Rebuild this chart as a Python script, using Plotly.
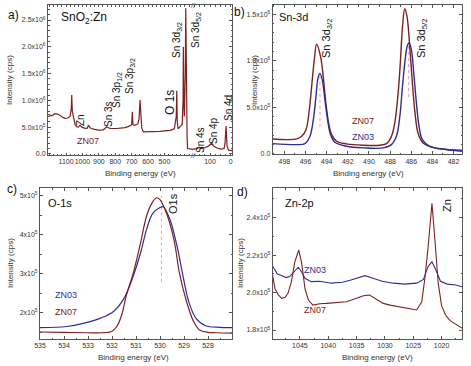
import plotly.graph_objects as go

W, H = 471, 366
RED = "#7e2020"
BLUE = "#2b2f92"
PINK = "#e79aae"

# ---------------- data ----------------
# a) survey, left segment (binding energy eV, intensity cps)
a_left_x = [1209.8, 1187.2, 1167.1, 1147, 1126.2, 1106.1, 1089.6, 1075.6, 1068, 1065.2, 1062, 1055.5,
            1045.1, 1034.8, 1025, 1014.6, 1004.3, 984.1, 970, 964, 953.7, 933.5, 903, 872.6, 851.8,
            831.7, 790.9, 740.2, 709.8, 700, 695.7, 692, 683.5, 662.8, 655, 648.8, 643, 638.4, 628.7,
            587.8, 526.8, 465.9, 440, 428, 425, 422, 417.1, 401.8, 392, 386.5, 384.8, 382, 378.7, 373,
            370.1, 367, 362, 359.1, 343.9, 325.6]
a_left_y = [0.738e6, 0.712e6, 0.75e6, 0.74e6, 0.693e6, 0.663e6, 0.67e6, 0.70e6, 0.85e6, 1.10e6, 0.80e6, 0.69e6,
            0.55e6, 0.506e6, 0.50e6, 0.537e6, 0.50e6, 0.476e6, 0.48e6, 0.537e6, 0.49e6, 0.462e6, 0.444e6, 0.45e6, 0.506e6,
            0.475e6, 0.475e6, 0.49e6, 0.524e6, 0.55e6, 0.787e6, 0.55e6, 0.53e6, 0.56e6, 0.65e6, 1.006e6, 0.6e6, 0.48e6, 0.412e6,
            0.412e6, 0.42e6, 0.44e6, 0.47e6, 0.7e6, 1.18e6, 0.6e6, 0.47e6, 0.52e6, 0.55e6, 1.0e6, 2.0e6, 1.0e6, 0.7e6, 1.5e6,
            2.72e6, 1.2e6, 0.3e6, 0.1e6, 0.09e6, 0.085e6]
# a) survey, right segment
a_right_x = [182, 162.8, 151.7, 143.5, 124, 109.7, 91.8, 80.7, 66.2, 46.9, 32.4, 27.5, 22.7, 17.9, 10.6, -6]
a_right_y = [0.09e6, 0.1e6, 0.125e6, 0.1e6, 0.12e6, 0.14e6, 0.2e6, 0.14e6, 0.11e6, 0.09e6, 0.1e6, 0.2e6,
             0.52e6, 0.15e6, 0.07e6, 0.06e6]

# b) Sn-3d
b07_x = [499.1, 497.78, 496.83, 496.36, 495.95, 495.64, 495.39, 495.17, 494.95, 494.57, 494.32, 494.07, 493.81,
         493.53, 493.06, 492.12, 490.54, 488.97, 488.34, 487.87, 487.56, 487.24, 487.02, 486.83, 486.61, 486.39,
         486.14, 485.89, 485.64, 485.36, 484.88, 483.94, 482.68, 481.2]
b07_y = [0.16e6, 0.153e6, 0.16e6, 0.188e6, 0.26e6, 0.473e6, 0.758e6, 1.007e6, 1.178e6, 1.043e6, 0.829e6, 0.545e6, 0.33e6,
         0.206e6, 0.135e6, 0.107e6, 0.093e6, 0.093e6, 0.11e6, 0.188e6, 0.33e6, 0.652e6, 1.0e6, 1.363e6, 1.56e6, 1.47e6,
         1.15e6, 0.758e6, 0.438e6, 0.224e6, 0.117e6, 0.07e6, 0.046e6, 0.04e6]
b03_x = [499.1, 496.83, 496.05, 495.58, 495.26, 495.01, 494.82, 494.63, 494.41, 494.16, 493.91, 493.63, 493.22,
         492.12, 490.54, 488.66, 487.87, 487.4, 487.08, 486.83, 486.58, 486.36, 486.2, 485.98, 485.76, 485.51,
         485.26, 484.95, 484.25, 482.68, 481.2]
b03_y = [0.11e6, 0.099e6, 0.11e6, 0.188e6, 0.366e6, 0.615e6, 0.812e6, 0.865e6, 0.794e6, 0.58e6, 0.366e6, 0.206e6, 0.124e6,
         0.081e6, 0.064e6, 0.064e6, 0.099e6, 0.188e6, 0.402e6, 0.722e6, 1.007e6, 1.168e6, 1.192e6, 1.114e6, 0.865e6, 0.545e6,
         0.295e6, 0.153e6, 0.081e6, 0.046e6, 0.028e6]
b_mark1_x = [494.63, 494.63]
b_mark1_y = [0.29e6, 0.87e6]
b_mark2_x = [486.24, 486.24]
b_mark2_y = [0.61e6, 1.2e6]

# c) O-1s
c07_x = [535.0, 534.0, 533.0, 532.4, 532.0, 531.8, 531.6, 531.4, 531.1, 530.8, 530.55, 530.3, 530.14, 530.0,
         529.7, 529.4, 529.2, 528.9, 528.6, 528.35, 528.0, 527.65, 527.0]
c07_y = [1.51e5, 1.50e5, 1.49e5, 1.49e5, 1.53e5, 1.65e5, 1.94e5, 2.45e5, 3.05e5, 3.82e5, 4.5e5, 4.85e5, 4.95e5, 4.9e5,
         4.5e5, 3.82e5, 3.05e5, 2.3e5, 1.78e5, 1.56e5, 1.5e5, 1.49e5, 1.48e5]
c03_x = [535.0, 533.9, 533.2, 532.5, 531.95, 531.5, 531.1, 530.8, 530.55, 530.3, 530.0, 529.87, 529.6, 529.3,
         529.05, 528.8, 528.5, 528.1, 527.5, 527.0]
c03_y = [1.62e5, 1.65e5, 1.73e5, 1.86e5, 2.03e5, 2.37e5, 2.97e5, 3.56e5, 4.16e5, 4.55e5, 4.7e5, 4.72e5, 4.42e5, 3.74e5,
         2.97e5, 2.28e5, 1.86e5, 1.67e5, 1.63e5, 1.62e5]
c_mark_x = [529.94, 529.94]
c_mark_y = [2.8e5, 5.0e5]

# d) Zn-2p
d07_x = [1049.8, 1049.4, 1048.8, 1048.2, 1047.6, 1047.1, 1046.5, 1045.9, 1045.2, 1044.7, 1044.1, 1043.5, 1042.7,
         1041.5, 1040.3, 1038.5, 1036.8, 1035, 1033.8, 1032.7, 1031.5, 1030.3, 1029.1, 1027.4, 1025.6, 1024.4,
         1023.5, 1022.95, 1022.4, 1021.7, 1021.1, 1020.6, 1020.0, 1019.3, 1018.5, 1017.5, 1016.4]
d07_y = [2.09e5, 2.02e5, 1.987e5, 1.969e5, 1.975e5, 1.996e5, 2.058e5, 2.164e5, 2.227e5, 2.16e5, 2.02e5, 1.96e5, 1.933e5,
         1.94e5, 1.942e5, 1.945e5, 1.951e5, 1.969e5, 1.983e5, 1.987e5, 1.965e5, 1.942e5, 1.933e5, 1.925e5, 1.916e5, 1.907e5,
         1.951e5, 2.076e5, 2.236e5, 2.476e5, 2.25e5, 2.05e5, 1.93e5, 1.88e5, 1.85e5, 1.83e5, 1.81e5]
d03_x = [1049.8, 1049.0, 1048.2, 1047.4, 1046.8, 1046.0, 1045.3, 1044.7, 1044.1, 1043.0, 1041.5, 1039.5, 1037.5,
         1036, 1034.5, 1033.5, 1032.5, 1030.5, 1028.5, 1026.5, 1024.4, 1023.2, 1022.4, 1021.7, 1021.0, 1020.2,
         1019.0, 1017.5, 1016.4]
d03_y = [2.14e5, 2.10e5, 2.09e5, 2.08e5, 2.085e5, 2.11e5, 2.135e5, 2.11e5, 2.076e5, 2.058e5, 2.06e5, 2.05e5, 2.055e5,
         2.067e5, 2.08e5, 2.09e5, 2.08e5, 2.06e5, 2.05e5, 2.045e5, 2.05e5, 2.07e5, 2.138e5, 2.164e5, 2.12e5, 2.06e5,
         2.045e5, 2.04e5, 2.031e5]

# tick labels
a_yvals = [0, 0.5e6, 1.0e6, 1.5e6, 2.0e6, 2.5e6]
a_ytext = ["0.0", "5.0x10<sup>5</sup>", "1.0x10<sup>6</sup>", "1.5x10<sup>6</sup>", "2.0x10<sup>6</sup>", "2.5x10<sup>6</sup>"]
a_xvals_left = [1100, 1000, 900, 800, 700, 600, 500]
a_xvals_right = [100, 0]
b_yvals = [0, 0.5e6, 1.0e6, 1.5e6]
b_ytext = ["0.0", "5.0x10<sup>5</sup>", "1.0x10<sup>6</sup>", "1.5x10<sup>6</sup>"]
b_xvals = [498, 496, 494, 492, 490, 488, 486, 484, 482]
c_yvals = [2e5, 3e5, 4e5, 5e5]
c_ytext = ["2x10<sup>5</sup>", "3x10<sup>5</sup>", "4x10<sup>5</sup>", "5x10<sup>5</sup>"]
c_xvals = [535, 534, 533, 532, 531, 530, 529, 528]
d_yvals = [1.8e5, 2.0e5, 2.2e5, 2.4e5]
d_ytext = ["1.8x10<sup>5</sup>", "2.0x10<sup>5</sup>", "2.2x10<sup>5</sup>", "2.4x10<sup>5</sup>"]
d_xvals = [1045, 1040, 1035, 1030, 1025, 1020]


def px(x):
    return x / W


def py(y):
    return 1 - y / H


fig = go.Figure()


def line(x, y, xa, ya, color, width=1.3, dash=None, shape="linear"):
    fig.add_trace(go.Scatter(x=x, y=y, xaxis=xa, yaxis=ya, mode="lines",
                             line=dict(color=color, width=width, dash=dash, shape=shape),
                             showlegend=False, hoverinfo="skip"))


line(a_left_x, a_left_y, "x", "y", RED, 1.2)
line(a_right_x, a_right_y, "x2", "y2", RED, 1.2)
line(b_mark1_x, b_mark1_y, "x3", "y3", PINK, 1, "dot")
line(b_mark2_x, b_mark2_y, "x3", "y3", PINK, 1, "dot")
line(b07_x, b07_y, "x3", "y3", RED, 1.4, shape="spline")
line(b03_x, b03_y, "x3", "y3", BLUE, 1.4, shape="spline")
line(c_mark_x, c_mark_y, "x4", "y4", PINK, 1, "dot")
line(c03_x, c03_y, "x4", "y4", BLUE, 1.2, shape="spline")
line(c07_x, c07_y, "x4", "y4", RED, 1.2, shape="spline")
line(d03_x, d03_y, "x5", "y5", BLUE, 1.1)
line(d07_x, d07_y, "x5", "y5", RED, 1.1)

AX = "#555"


def axis(dom, rng, anchor, vals=None, text=None, mirror="allticks", minor_dtick=None, **kw):
    d = dict(domain=dom, range=rng, anchor=anchor, showgrid=False, zeroline=False,
             showline=True, linecolor=AX, linewidth=1, ticks="inside", ticklen=3,
             tickcolor=AX, tickwidth=1, mirror=mirror, automargin=False, tickangle=0,
             tickfont=dict(size=7, color="#333", family="Arial"))
    if vals is not None:
        d["tickmode"] = "array"
        d["tickvals"] = vals
        if text is not None:
            d["ticktext"] = text
    if minor_dtick:
        d["minor"] = dict(ticks="inside", ticklen=1.5, tickcolor=AX, dtick=minor_dtick)
    d.update(kw)
    return d


ya_dom = [py(155), py(5)]
yc_dom = [py(339), py(188)]
fig.update_layout(
    xaxis=axis([px(48), px(193)], [1210, 326], "y", a_xvals_left, minor_dtick=25, ticklen=2),
    yaxis=axis(ya_dom, [-0.02e6, 2.78e6], "x", a_yvals, a_ytext, mirror=False, minor_dtick=0.1e6),
    xaxis2=axis([px(193), px(232)], [182, -6], "y2", a_xvals_right, minor_dtick=25, ticklen=2),
    yaxis2=axis(ya_dom, [-0.02e6, 2.78e6], "x2", a_yvals, mirror=False, side="right",
                showticklabels=False, minor_dtick=0.1e6),
    xaxis3=axis([px(272.7), px(462)], [499.1, 481.2], "y3", b_xvals, minor_dtick=1),
    yaxis3=axis([py(154.3), py(5)], [-0.005e6, 1.6e6], "x3", b_yvals, b_ytext, minor_dtick=0.1e6),
    xaxis4=axis([px(40), px(232)], [535, 527], "y4", c_xvals, minor_dtick=0.5),
    yaxis4=axis(yc_dom, [1.33e5, 5.2e5], "x4", c_yvals, c_ytext, minor_dtick=0.5e5),
    xaxis5=axis([px(272.7), px(462)], [1049.8, 1016.4], "y5", d_xvals, minor_dtick=2.5),
    yaxis5=axis(yc_dom, [1.752e5, 2.558e5], "x5", d_yvals, d_ytext, minor_dtick=0.1e5),
)

anns = []


def ann(text, x, y, size=10, color="#111", angle=0, xanchor="center", yanchor="middle"):
    anns.append(dict(text=text, x=px(x), y=py(y), xref="paper", yref="paper", showarrow=False,
                     textangle=angle, xanchor=xanchor, yanchor=yanchor,
                     font=dict(size=size, color=color, family="Arial")))


# panel letters
ann("a)", 13, 15, 12)
ann("b)", 239, 12, 12)
ann("c)", 12, 189, 12)
ann("d)", 242, 192, 12)
# panel titles
ann("SnO<sub>2</sub>:Zn", 59, 18, 12, xanchor="left")
ann("Sn-3d", 277, 17, 11, xanchor="left")
ann("O-1s", 46, 203, 11, xanchor="left")
ann("Zn-2p", 283, 203, 11, xanchor="left")
# panel a peak labels
ann("Zn", 81, 120, 10, angle=-90)
ann("Sn 3s", 108, 114, 10, angle=-90)
ann("Sn 3p<sub>1/2</sub>", 117, 90, 10, angle=-90)
ann("Sn 3p<sub>3/2</sub>", 130, 76, 10, angle=-90)
ann("O 1s", 170, 103, 12, angle=-90)
ann("Sn 3d<sub>3/2</sub>", 177, 40, 10, angle=-90)
ann("Sn 3d<sub>5/2</sub>", 196, 30, 10, angle=-90)
ann("Sn 4s", 200, 140, 10, angle=-90)
ann("Sn 4p", 213, 131, 10, angle=-90)
ann("Sn 4d", 228, 108, 10, angle=-90)
ann("ZN07", 88, 141, 9, RED)
# panel b labels
ann("Sn 3d<sub>3/2</sub>", 327, 39, 11, angle=-90)
ann("Sn 3d<sub>5/2</sub>", 422, 39, 11, angle=-90)
ann("ZN07", 363, 121, 9, RED)
ann("ZN03", 363, 137, 9, BLUE)
# panel c labels
ann("O1s", 173, 204, 11, angle=-90)
ann("ZN03", 66, 295, 9, BLUE)
ann("ZN07", 66, 312, 9, RED)
# panel d labels
ann("Zn", 447, 206, 11, angle=-90)
ann("ZN03", 302, 270, 9, BLUE, xanchor="left")
ann("ZN07", 302, 310, 9, RED, xanchor="left")
# axis titles
for xx, yy in [(140, 173), (368, 173), (133, 357), (377, 357)]:
    ann("Binding energy (eV)", xx, yy, 8, "#333")
for xx, yy in [(9, 80), (254, 80), (10, 263), (240, 263)]:
    ann("Intensity (cps)", xx, yy, 8, "#333", angle=-90)
# axis break marks
ann("//", 193, 5, 8, "#555")
ann("//", 193, 155, 8, "#555")

fig.update_layout(annotations=anns, width=W, height=H, margin=dict(l=0, r=0, t=0, b=0),
                  plot_bgcolor="white", paper_bgcolor="white", showlegend=False,
                  font=dict(family="Arial"))

fig.write_html("out.html", config={"displayModeBar": False},
               post_script="document.body.style.margin='0';document.body.style.overflow='hidden';")
